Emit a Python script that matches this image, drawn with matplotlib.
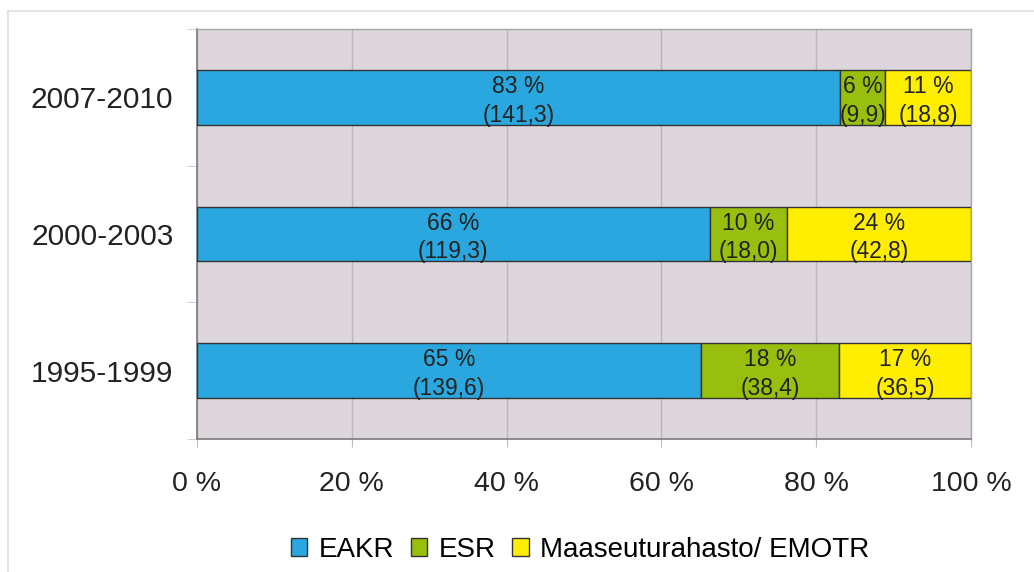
import matplotlib
matplotlib.use("Agg")
import matplotlib.pyplot as plt
from matplotlib.lines import Line2D
import numpy as np

plt.rcParams['font.family'] = ['Liberation Sans', 'DejaVu Sans']

periods = ["1995-1999", "2000-2003", "2007-2010"]
series = ["EAKR", "ESR", "Maaseuturahasto/ EMOTR"]
eakr = [139.6, 119.3, 141.3]
esr = [38.4, 18.0, 9.9]
emotr = [36.5, 42.8, 18.8]
colors = ["#2AA7DE", "#98BF0E", "#FFEE00"]
xticklabels = ["0 %", "20 %", "40 %", "60 %", "80 %", "100 %"]

W, H = 1034, 572
fig = plt.figure(figsize=(W / 100, H / 100), dpi=100)
ax = fig.add_axes([197 / W, 1 - 439 / H, (971 - 197) / W, (439 - 29) / H])
ax.set_facecolor("#DDD6DD")

data = np.array([eakr, esr, emotr])
totals = data.sum(axis=0)
shares = data / totals * 100
y = np.arange(len(periods))
left = np.zeros(len(periods))
for i, name in enumerate(series):
    ax.barh(y, shares[i], left=left, height=0.4, color=colors[i],
            edgecolor="#333333", linewidth=1.0, label=name, zorder=3)
    for j in range(len(periods)):
        cx = left[j] + shares[i][j] / 2
        ax.annotate(f"{shares[i][j]:.0f} %\n({data[i][j]:.1f})".replace(".", ","),
                    xy=(cx, y[j]), xytext=(0, -2.5), textcoords="offset points",
                    ha="center", va="center", fontsize=16.5, color="#222222",
                    linespacing=1.3, zorder=4)
    left = left + shares[i]

ax.set_xlim(0, 100)
ax.set_ylim(-0.5, 2.5)
ax.set_xticks(np.arange(0, 101, 20))
ax.set_xticklabels(xticklabels, fontsize=20.5, color="#222222")
ax.set_yticks(y)
ax.set_yticklabels(periods, fontsize=21.5, color="#222222")
ax.set_yticks([-0.5, 0.5, 1.5, 2.5], minor=True)
ax.tick_params(axis="y", which="major", length=0, pad=17)
ax.tick_params(axis="y", which="minor", length=7, color="#C8C8C8", direction="out")
ax.tick_params(axis="x", length=6, color="#C0BAC0", pad=17)
ax.grid(axis="x", color="#BDB5BD", linewidth=1.0, zorder=1)
for s in ["left", "bottom"]:
    ax.spines[s].set_color("#7A7A7A")
    ax.spines[s].set_linewidth(1.2)
for s in ["top", "right"]:
    ax.spines[s].set_color("#A8A8A8")
    ax.spines[s].set_linewidth(1.0)

fig.legend(loc="center", bbox_to_anchor=(580 / W, 1 - 550 / H), ncol=3,
           frameon=False, fontsize=20, handlelength=0.6, handleheight=0.6,
           handletextpad=0.4, columnspacing=0.6)

fig.add_artist(Line2D([8 / W, 1], [1 - 11 / H, 1 - 11 / H], transform=fig.transFigure,
                      color="#E0E0E0", linewidth=1.2))
fig.add_artist(Line2D([8 / W, 8 / W], [0, 1 - 11 / H], transform=fig.transFigure,
                      color="#E0E0E0", linewidth=1.2))

fig.savefig("out.png", dpi=100)
